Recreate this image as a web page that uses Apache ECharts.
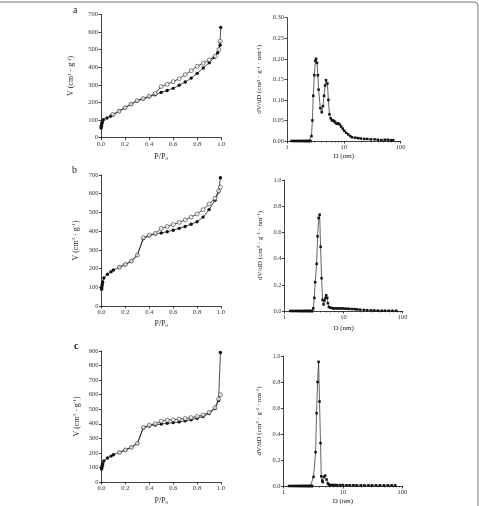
<!DOCTYPE html>
<html><head><meta charset="utf-8">
<script src="https://cdn.jsdelivr.net/npm/echarts@6/dist/echarts.min.js"></script>
<style>html,body{margin:0;padding:0;background:#fff}#c{width:479px;height:506px}</style>
</head><body><div id="c"></div>
<script>
// ---- Panel a ----
const aAdsP = [0.001,0.002,0.004,0.007,0.01,0.02,0.05,0.08,0.1,0.15,0.2,0.25,0.3,0.35,0.4,0.45,0.5,0.55,0.6,0.65,0.7,0.75,0.8,0.85,0.9,0.94,0.97,0.99,0.995];
const aAdsV = [55,62,70,80,88,102,112,122,130,150,170,190,208,220,232,243,257,268,280,298,316,338,365,395,425,455,482,525,625];
const aDesP = [0.99,0.98,0.95,0.9,0.85,0.8,0.75,0.7,0.65,0.6,0.55,0.5,0.45,0.4,0.35,0.3,0.25,0.2,0.15,0.1];
const aDesV = [548,500,462,442,422,405,380,358,335,318,303,290,250,235,222,210,190,170,150,132];
const aPsdD = [1.2,1.3,1.4,1.5,1.6,1.7,1.8,1.9,2.0,2.1,2.2,2.3,2.4,2.5,2.6,2.7,2.8,2.9,3.03,3.16,3.25,3.38,3.5,3.6,3.87,4.1,4.3,4.5,4.68,4.87,5.15,5.36,5.6,5.9,6.2,6.5,6.8,7.1,7.5,8.0,8.5,9.0,9.6,10.2,11,12,13,14,16,18,20,23,26,30,35,40,46,53,60,68,74];
const aPsdV = [0,0,0,0,0,0,0,0,0,0,0,0,0,0,0,0.012,0.05,0.11,0.16,0.195,0.2,0.19,0.16,0.125,0.08,0.07,0.085,0.11,0.135,0.148,0.14,0.1,0.065,0.055,0.05,0.05,0.048,0.045,0.042,0.043,0.04,0.035,0.03,0.025,0.02,0.016,0.012,0.009,0.008,0.007,0.006,0.005,0.005,0.004,0.004,0.003,0.002,0.003,0.003,0.002,0.002];
// ---- Panel b ----
const bAdsP = [0.001,0.002,0.004,0.007,0.01,0.02,0.05,0.08,0.1,0.15,0.2,0.25,0.3,0.35,0.4,0.45,0.5,0.55,0.6,0.65,0.7,0.75,0.8,0.85,0.9,0.95,0.98,0.995];
const bAdsV = [90,98,108,118,128,150,170,183,192,207,222,240,272,360,375,385,390,397,405,415,425,437,450,475,515,565,610,685];
const bDesP = [0.995,0.98,0.95,0.9,0.85,0.8,0.75,0.7,0.65,0.6,0.55,0.5,0.45,0.4,0.35,0.3,0.25,0.2,0.15];
const bDesV = [635,615,575,545,515,492,475,460,447,435,425,415,388,378,365,272,240,222,207];
const bPsdD = [1.25,1.35,1.45,1.55,1.65,1.75,1.85,1.95,2.05,2.15,2.25,2.35,2.45,2.55,2.65,2.75,2.85,2.95,3.07,3.2,3.3,3.5,3.63,3.78,3.93,4.08,4.24,4.41,4.58,4.76,4.95,5.08,5.28,5.42,5.63,6.0,6.4,6.8,7.3,7.8,8.4,9,9.7,10.5,11.5,12.5,14,15.5,17,19,22,25,29,33,38,44,50,58,67,78];
const bPsdV = [0,0,0,0,0,0,0,0,0,0,0,0,0,0,0,0,0,0,0.02,0.1,0.22,0.36,0.57,0.71,0.735,0.49,0.25,0.085,0.05,0.08,0.1,0.12,0.1,0.06,0.03,0.025,0.022,0.02,0.02,0.02,0.02,0.02,0.019,0.018,0.017,0.016,0.015,0.014,0.012,0.01,0.008,0.006,0.005,0.004,0.003,0.002,0.002,0.002,0.002,0.002];
// ---- Panel c ----
const cAdsP = [0.001,0.002,0.004,0.007,0.01,0.02,0.05,0.08,0.1,0.15,0.2,0.25,0.3,0.35,0.4,0.45,0.5,0.55,0.6,0.65,0.7,0.75,0.8,0.85,0.9,0.95,0.98,0.995];
const cAdsV = [90,97,105,115,125,145,165,178,187,203,220,238,265,370,385,392,398,403,408,413,420,428,438,450,470,505,560,890];
const cDesP = [0.995,0.98,0.95,0.9,0.85,0.8,0.75,0.7,0.65,0.6,0.55,0.5,0.45,0.4,0.35,0.3,0.25,0.2,0.15];
const cDesV = [600,570,510,478,460,450,442,436,432,428,425,418,400,390,375,265,238,220,203];
const cPsdD = [1.24,1.34,1.44,1.54,1.64,1.74,1.84,1.94,2.04,2.14,2.24,2.34,2.44,2.54,2.64,2.74,2.84,2.94,3.04,3.2,3.47,3.6,3.75,3.9,4.04,4.2,4.32,4.49,4.6,4.78,5.03,5.3,5.58,5.8,6.2,6.7,7.3,8,9,10,11.5,13,15,17,20,23,27,31,36,42,49,57,66,76];
const cPsdV = [0,0,0,0,0,0,0,0,0,0,0,0,0,0,0,0,0,0,0,0.07,0.26,0.56,0.8,0.955,0.65,0.33,0.075,0.04,0.03,0.07,0.08,0.05,0.02,0.01,0.008,0.008,0.008,0.007,0.007,0.007,0.006,0.006,0.006,0.006,0.005,0.005,0.005,0.005,0.005,0.005,0.005,0.005,0.005,0.005];
// tick labels / titles
const panelLabels = ['a','b','c'];
const isoXTitle = 'P/P{sub|0}';
const isoYTitle = 'V (cm{sup|3} · g{sup|-1})';
const psdXTitle = 'D (nm)';
const psdYTitle = 'dV/dD (cm{sup|3} · g{sup|-1} · nm{sup|-1})';

const zip = (xs, ys) => xs.map((x, i) => [x, ys[i]]);
const FONT = 'Liberation Serif';
const rich = {sup:{fontSize:5, fontFamily:FONT, verticalAlign:'top', color:'#222'}, sub:{fontSize:5, fontFamily:FONT, verticalAlign:'bottom', color:'#222'}};

const grids = [
  {left:101, top:14.3, width:120.3, height:123.4},
  {left:287, top:17.7, width:113.5, height:123.3},
  {left:101.5, top:175, width:119.5, height:131},
  {left:284.5, top:180, width:118.2, height:131},
  {left:101.5, top:351, width:119.5, height:131},
  {left:283.5, top:356, width:118.8, height:132.3}
];
const axisCommon = {
  axisLine:{lineStyle:{color:'#111', width:0.8}},
  axisTick:{inside:false, length:2.5, lineStyle:{color:'#111', width:0.8}},
  splitLine:{show:false},
  axisLabel:{fontFamily:FONT, fontSize:6.5, color:'#333', margin:3}
};
const xAxes = [], yAxes = [];
const isoMax = [700, 700, 900];
const psdMax = [0.3, 1.0, 1.0];
const psdInt = [0.05, 0.2, 0.2];
const yNameGaps = [[26,24],[22,21],[21,21]];
const xNameGaps = [[15,12],[14,14],[15,12]];
for (let p = 0; p < 3; p++) {
  xAxes.push(Object.assign({}, axisCommon, {gridIndex:2*p, type:'value', min:0, max:1, interval:0.2,
    name:isoXTitle, nameLocation:'middle', nameGap:xNameGaps[p][0],
    nameTextStyle:{fontFamily:FONT, fontSize:8, color:'#222', rich},
    axisLabel:Object.assign({}, axisCommon.axisLabel, {formatter:v=>v.toFixed(1)})}));
  xAxes.push(Object.assign({}, axisCommon, {gridIndex:2*p+1, type:'log', logBase:10, min:1, max:100,
    name:psdXTitle, nameLocation:'middle', nameGap:xNameGaps[p][1],
    nameTextStyle:{fontFamily:FONT, fontSize:7, color:'#222'},
    minorTick:{show:true, splitNumber:9, length:1.5, lineStyle:{color:'#111', width:0.6}}}));
  yAxes.push(Object.assign({}, axisCommon, {gridIndex:2*p, type:'value', min:0, max:isoMax[p], interval:100,
    name:isoYTitle, nameLocation:'middle', nameGap:yNameGaps[p][0], nameRotate:90,
    nameTextStyle:{fontFamily:FONT, fontSize:8, color:'#222', rich}}));
  yAxes.push(Object.assign({}, axisCommon, {gridIndex:2*p+1, type:'value', min:0, max:psdMax[p], interval:psdInt[p],
    name:psdYTitle, nameLocation:'middle', nameGap:yNameGaps[p][1], nameRotate:90,
    nameTextStyle:{fontFamily:FONT, fontSize:7, color:'#222', rich},
    axisLabel:Object.assign({}, axisCommon.axisLabel, {formatter:v=>v.toFixed(p===0?2:1)})}));
}
const ads = [[aAdsP,aAdsV],[bAdsP,bAdsV],[cAdsP,cAdsV]];
const des = [[aDesP,aDesV],[bDesP,bDesV],[cDesP,cDesV]];
const psd = [[aPsdD,aPsdV],[bPsdD,bPsdV],[cPsdD,cPsdV]];
const series = [];
for (let p = 0; p < 3; p++) {
  const dd = zip(des[p][0], des[p][1]);
  const ad = zip(ads[p][0], ads[p][1]);
  // desorption line
  series.push({type:'line', xAxisIndex:2*p, yAxisIndex:2*p, data:dd, z:2, color:'#222',
    showSymbol:false, lineStyle:{color:'#222', width:0.8}, animation:false});
  // adsorption line + filled markers
  series.push({type:'line', xAxisIndex:2*p, yAxisIndex:2*p, data:ad, z:3, color:'#111',
    symbol:'circle', symbolSize:3.4, showAllSymbol:true, itemStyle:{color:'#111'}, lineStyle:{color:'#222', width:0.8}, animation:false});
  // desorption open markers on top
  series.push({type:'scatter', xAxisIndex:2*p, yAxisIndex:2*p, data:dd, z:5,
    symbol:'circle', symbolSize:4, itemStyle:{color:'#fff', borderColor:'#222', borderWidth:0.7}, animation:false});
  // pore size distribution
  series.push({type:'line', xAxisIndex:2*p+1, yAxisIndex:2*p+1, data:zip(psd[p][0], psd[p][1]), color:'#111',
    symbol:'rect', symbolSize:2.5, showAllSymbol:true, itemStyle:{color:'#111'}, lineStyle:{color:'#222', width:0.7}, animation:false});
}
const chart = echarts.init(document.getElementById('c'), null, {renderer:'canvas'});
chart.setOption({
  backgroundColor:'#fff',
  animation:false,
  grid:grids,
  xAxis:xAxes,
  yAxis:yAxes,
  series:series,
  graphic:[
    {type:'rect', shape:{x:-10, y:2, width:488, height:520, r:4}, style:{fill:'none', stroke:'#777', lineWidth:1}},
    {type:'text', left:73, top:5, style:{text:panelLabels[0], font:'10px "Liberation Serif"', fill:'#222'}},
    {type:'text', left:72, top:165, style:{text:panelLabels[1], font:'10px "Liberation Serif"', fill:'#222'}},
    {type:'text', left:74, top:341, style:{text:panelLabels[2], font:'bold 10px "Liberation Serif"', fill:'#222'}}
  ]
});
</script></body></html>
